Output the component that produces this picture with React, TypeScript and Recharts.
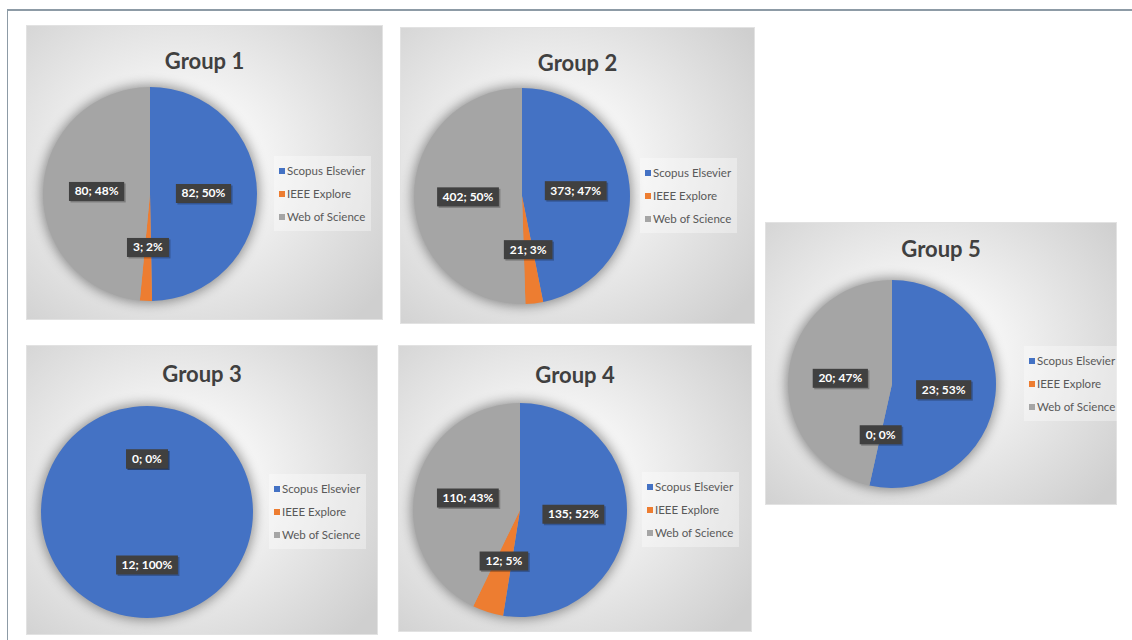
import React from "react";
import { PieChart, Pie, Cell, Legend } from "recharts";

const categories = ["Scopus Elsevier", "IEEE Explore", "Web of Science"];
const colors = ["#4472C4", "#ED7D31", "#A5A5A5"];

const group1Values = [82, 3, 80];
const group1Percents = [50, 2, 48];
const group2Values = [373, 21, 402];
const group2Percents = [47, 3, 50];
const group3Values = [12, 0, 0];
const group3Percents = [100, 0, 0];
const group4Values = [135, 12, 110];
const group4Percents = [52, 5, 43];
const group5Values = [23, 0, 20];
const group5Percents = [53, 0, 47];

const FONT = "Lato, 'Open Sans', sans-serif";
const RAD = Math.PI / 180;

type PanelProps = {
  title: string;
  values: number[];
  percents: number[];
  left: number;
  top: number;
  width: number;
  height: number;
  cx: number;
  cy: number;
  r: number;
  titleY: number;
  legendX: number;
};

function BoxLabel(props: any, percents: number[]) {
  const { cx, cy, midAngle, outerRadius, value, index } = props;
  const rr = outerRadius * 0.5;
  const x = cx + rr * Math.cos(-midAngle * RAD);
  const y = cy + rr * Math.sin(-midAngle * RAD);
  const text = `${value}; ${percents[index]}%`;
  const w = text.length * 6.6 + 9;
  const h = 19;
  return (
    <g key={`lbl-${index}`}>
      <rect
        x={x - w / 2 + 1.5}
        y={y - h / 2 + 1.5}
        width={w}
        height={h}
        fill="rgba(0,0,0,0.25)"
      />
      <rect x={x - w / 2} y={y - h / 2} width={w} height={h} fill="#404040" />
      <text
        x={x}
        y={y + 4}
        textAnchor="middle"
        fill="#ffffff"
        fontFamily={FONT}
        fontWeight={700}
        fontSize={12}
      >
        {text}
      </text>
    </g>
  );
}

function LegendBox() {
  return (
    <div
      style={{
        background: "rgba(255,255,255,0.35)",
        padding: "3px 6px 3px 5px",
        fontFamily: FONT,
        fontSize: 11.5,
        color: "#595959",
        whiteSpace: "nowrap",
      }}
    >
      {categories.map((name, i) => (
        <div
          key={name}
          style={{ display: "flex", alignItems: "center", height: 23 }}
        >
          <span
            style={{
              display: "inline-block",
              width: 6,
              height: 6,
              background: colors[i],
              marginRight: 2,
            }}
          />
          {name}
        </div>
      ))}
    </div>
  );
}

function Panel(p: PanelProps) {
  const data = categories.map((name, i) => ({ name, value: p.values[i] }));
  return (
    <div
      style={{
        position: "absolute",
        left: p.left,
        top: p.top,
        width: p.width,
        height: p.height,
        boxSizing: "border-box",
        border: "1px solid #e2e2e2",
        background: `radial-gradient(ellipse 70% 75% at ${((p.cx + 30) / p.width) * 100}% ${((p.cy - 30) / p.height) * 100}%, #ffffff 0%, #f3f3f3 35%, #cfcfcf 100%)`,
      }}
    >
      <div
        style={{
          position: "absolute",
          left: 0,
          width: "100%",
          top: p.titleY - 14,
          textAlign: "center",
          fontFamily: FONT,
          fontWeight: 700,
          fontSize: 22,
          color: "#404040",
          lineHeight: "28px",
        }}
      >
        {p.title}
      </div>
      {/* soft shadow under the pie */}
      <div
        style={{
          position: "absolute",
          left: p.cx - p.r + 1,
          top: p.cy - p.r + 1,
          width: p.r * 2 - 2,
          height: p.r * 2 - 2,
          borderRadius: "50%",
          background: "#a5a5a5",
          boxShadow: "0 0 12px 3px rgba(0,0,0,0.4)",
        }}
      />
      <PieChart
        width={p.width - 2}
        height={p.height - 2}
        margin={{ top: 0, right: 0, bottom: 0, left: 0 }}
      >
        <Pie
          data={data}
          dataKey="value"
          nameKey="name"
          cx={p.cx}
          cy={p.cy}
          outerRadius={p.r}
          startAngle={90}
          endAngle={-270}
          stroke="none"
          labelLine={false}
          label={(lp: any) => BoxLabel(lp, p.percents)}
          isAnimationActive={false}
        >
          {data.map((d, i) => (
            <Cell key={d.name} fill={colors[i]} />
          ))}
        </Pie>
        <Legend
          layout="vertical"
          content={<LegendBox />}
          wrapperStyle={{
            left: p.legendX - 9,
            top: p.cy - 38,
            width: "auto",
          }}
        />
      </PieChart>
    </div>
  );
}

export default function App() {
  return (
    <div
      style={{
        position: "relative",
        width: 1132,
        height: 640,
        background: "#ffffff",
        overflow: "hidden",
      }}
    >
      <style>{`body{margin:0;}`}</style>
      <div
        style={{
          position: "absolute",
          left: 7,
          top: 9,
          width: 1125,
          height: 2,
          background: "#8d9ba6",
        }}
      />
      <div
        style={{
          position: "absolute",
          left: 7,
          top: 9,
          width: 1,
          height: 631,
          background: "#8d9ba6",
        }}
      />
      <Panel
        title="Group 1"
        values={group1Values}
        percents={group1Percents}
        left={26}
        top={25}
        width={357}
        height={295}
        cx={123}
        cy={168}
        r={107}
        titleY={35}
        legendX={256}
      />
      <Panel
        title="Group 2"
        values={group2Values}
        percents={group2Percents}
        left={400}
        top={27}
        width={355}
        height={297}
        cx={121}
        cy={168}
        r={108}
        titleY={35}
        legendX={248}
      />
      <Panel
        title="Group 3"
        values={group3Values}
        percents={group3Percents}
        left={26}
        top={345}
        width={352}
        height={290}
        cx={120}
        cy={166}
        r={106}
        titleY={28}
        legendX={251}
      />
      <Panel
        title="Group 4"
        values={group4Values}
        percents={group4Percents}
        left={398}
        top={345}
        width={354}
        height={287}
        cx={121}
        cy={164}
        r={107}
        titleY={29}
        legendX={252}
      />
      <Panel
        title="Group 5"
        values={group5Values}
        percents={group5Percents}
        left={765}
        top={222}
        width={352}
        height={283}
        cx={126}
        cy={161}
        r={104}
        titleY={26}
        legendX={267}
      />
    </div>
  );
}
